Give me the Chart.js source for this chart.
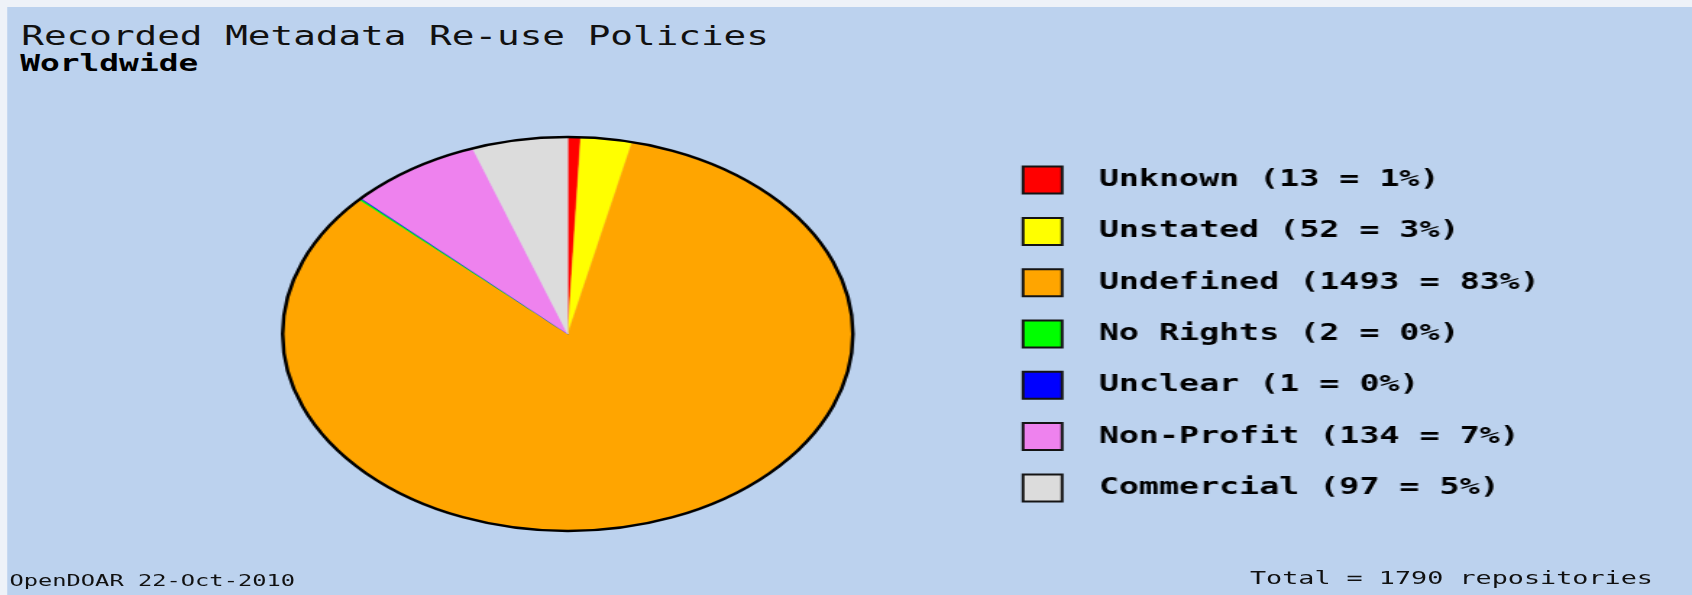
<!DOCTYPE html>
<html>
<head>
<meta charset="utf-8">
<title>Recorded Metadata Re-use Policies</title>
<script src="https://cdn.jsdelivr.net/npm/chart.js@4.4.1/dist/chart.umd.min.js"></script>
<style>
  html, body { margin: 0; padding: 0; background: #eef2f8; overflow: hidden; }
  /* the original picture is stretched sideways, so the whole stage is scaled in x */
  #stage { position: absolute; left: 0; top: 0; width: 1169px; height: 595px; transform: scaleX(1.4474); transform-origin: 0 0; }
  #panel { position: absolute; left: 4.8px; top: 7px; right: 0; bottom: 0; background: #bcd2ee; }
  #policyChart { position: absolute; left: 0; top: 0; }
  .txt { position: absolute; font-family: "DejaVu Sans Mono", monospace; color: #000; white-space: pre; }
  #title { left: 14.7px; top: 23px; font-size: 26px; line-height: 26px; color: #111; }
  #subtitle { left: 14px; top: 51.5px; font-size: 22.7px; line-height: 22.7px; font-weight: bold; }
  #source { left: 6.5px; top: 573.3px; font-size: 16.4px; line-height: 16.4px; color: #111; }
  #total { right: 27px; top: 569.3px; font-size: 18.5px; line-height: 18.5px; color: #111; }
</style>
</head>
<body>
<div id="stage">
  <div id="panel"></div>
  <div class="txt" id="title"></div>
  <div class="txt" id="subtitle"></div>
  <canvas id="policyChart" width="1169" height="595" style="width:1169px;height:595px"></canvas>
  <div class="txt" id="source"></div>
  <div class="txt" id="total"></div>
</div>
<script>
// Chart data
const policies = ['Unknown', 'Unstated', 'Undefined', 'No Rights', 'Unclear', 'Non-Profit', 'Commercial'];
const counts = [13, 52, 1493, 2, 1, 134, 97];
const percents = [1, 3, 83, 0, 0, 7, 5];
const sliceColors = ['#ff0000', '#ffff00', '#ffa500', '#00ff00', '#0000ff', '#ee82ee', '#dcdcdc'];
const totalRepositories = 1790;
const chartTitle = 'Recorded Metadata Re-use Policies';
const chartRegion = 'Worldwide';
const sourceNote = 'OpenDOAR 22-Oct-2010';

// Draws a black rim round the pie, using the arc geometry from Chart.js
const outlinePlugin = {
  id: 'pieOutline',
  afterDatasetsDraw(chart) {
    const arc = chart.getDatasetMeta(0).data[0];
    if (!arc) return;
    const { x, y, outerRadius } = arc.getProps(['x', 'y', 'outerRadius'], true);
    const ctx = chart.ctx;
    ctx.save();
    ctx.beginPath();
    ctx.arc(x, y, outerRadius, 0, Math.PI * 2);
    ctx.lineWidth = 2.5;
    ctx.strokeStyle = '#000';
    ctx.stroke();
    ctx.restore();
  }
};

document.addEventListener('DOMContentLoaded', function() {
  document.getElementById('title').textContent = chartTitle;
  document.getElementById('subtitle').textContent = chartRegion;
  document.getElementById('source').textContent = sourceNote;
  document.getElementById('total').textContent = `Total = ${totalRepositories} repositories`;

  const ctx = document.getElementById('policyChart').getContext('2d');

  new Chart(ctx, {
    type: 'pie',
    data: {
      labels: policies,
      datasets: [{
        data: counts,
        backgroundColor: sliceColors,
        borderColor: sliceColors, // same as fill, just hides the seams
        borderWidth: 0.5,
        radius: 197
      }]
    },
    plugins: [outlinePlugin],
    options: {
      responsive: false,
      animation: false,
      layout: {
        // chart area centred on the pie, legend pushed to where the original has it
        padding: { top: 100, bottom: 27, left: 102, right: 95.2 }
      },
      plugins: {
        tooltip: { enabled: false },
        title: { display: false },
        legend: {
          position: 'right',
          align: 'center',
          labels: {
            boxWidth: 27,
            boxHeight: 27,
            padding: 24.3,
            color: '#000',
            font: { family: 'DejaVu Sans Mono', size: 23, weight: 'bold' },
            generateLabels(chart) {
              const items = Chart.overrides.pie.plugins.legend.labels.generateLabels(chart);
              return items.map((item, i) => ({
                ...item,
                text: ` ${policies[i]} (${counts[i]} = ${percents[i]}%)`,
                strokeStyle: '#141414',
                lineWidth: 2
              }));
            }
          }
        }
      }
    }
  });
});
</script>
</body>
</html>
